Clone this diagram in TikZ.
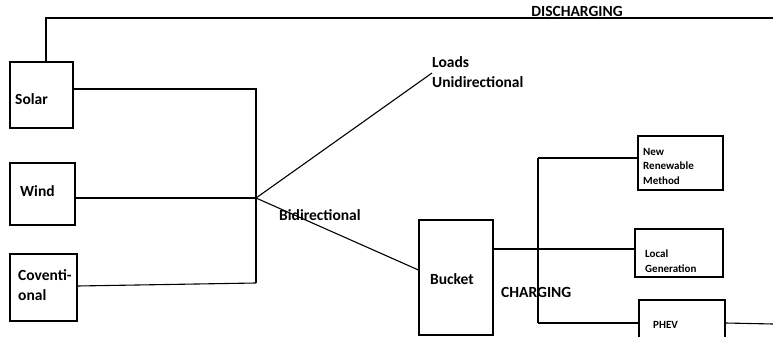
\documentclass[tikz,border=0pt]{standalone}
\usepackage{fontspec}
\setmainfont{Carlito}
\begin{document}
\begin{tikzpicture}[
    x=1pt, y=-1pt,
    unitbox/.style={draw, line width=1.1pt, inner sep=0pt},
    bigtext/.style={font=\fontsize{15.5}{19.5}\selectfont\bfseries, align=left, inner sep=0pt},
    smalltext/.style={font=\fontsize{11}{14.5}\selectfont\bfseries, align=left, inner sep=0pt},
    wire/.style={line width=1.1pt}
]
    \clip (0,0) rectangle (773,337);

    \node[unitbox, minimum width=63, minimum height=66] (solarbox) at (41.5,95) {};
    \node[unitbox, minimum width=65, minimum height=62] (windbox)  at (42.5,194) {};
    \node[unitbox, minimum width=67, minimum height=67] (convbox)  at (43.5,287.5) {};
    \node[bigtext, anchor=west] (solar) at (15,99)  {Solar};
    \node[bigtext, anchor=west] (wind)  at (20,191) {Wind};
    \node[bigtext, anchor=west] (conv)  at (18,285) {Coventi-\\onal};

    \node[unitbox, minimum width=74, minimum height=115] (bucketbox) at (456,277.5) {};
    \node[bigtext, anchor=west] (bucket) at (430,279) {Bucket};

    \node[unitbox, minimum width=85, minimum height=54] (renewbox) at (680.5,163) {};
    \node[unitbox, minimum width=88, minimum height=48] (localbox) at (679,253) {};
    \node[unitbox, minimum width=86, minimum height=50] (phevbox)  at (682,325) {};
    \node[smalltext, anchor=west] (renew) at (643,166) {New\\Renewable\\Method};
    \node[smalltext, anchor=west] (local) at (645,261) {Local\\Generation};
    \node[smalltext, anchor=west] (phev)  at (653,325) {PHEV};

    \node[bigtext, anchor=west] (loads) at (432,72)  {Loads\\Unidirectional};
    \node[bigtext, anchor=west] (bidir) at (279,215) {Bidirectional};
    \node[bigtext, anchor=west] (charging) at (501,292) {CHARGING};
    \node[bigtext, anchor=base] (discharging) at (577,17) {DISCHARGING};

    \coordinate (dtop) at (46,18);
    \coordinate (dend) at (773,18);
    \coordinate (jsol) at (256,89);
    \coordinate (jmid) at (256,198);
    \coordinate (jbot) at (256,283);
    \coordinate (lend) at (432,73);
    \coordinate (jtop) at (538,158);
    \coordinate (jchg) at (538,249);
    \coordinate (jlow) at (538,323);
    \coordinate (pend) at (773,324);

    \draw[wire] (solarbox.north -| dtop) -- (dtop) -- (dend);
    \draw[wire] (solarbox.east |- jsol) -- (jsol) -- (jbot);
    \draw[wire] (windbox.east |- jmid) -- (jmid);
    \draw[wire] (convbox.east |- 0,286) -- (jbot);
    \draw[wire] (jmid) -- (lend);
    \draw[wire] (jmid) -- ([yshift=7.5pt]bucketbox.west);
    \draw[wire] (bucketbox.east |- jchg) -- (jchg);
    \draw[wire] (jtop) -- (jlow);
    \draw[wire] (jtop) -- (renewbox.west |- jtop);
    \draw[wire] (jchg) -- (localbox.west |- jchg);
    \draw[wire] (jlow) -- (phevbox.west |- jlow);
    \draw[wire] (phevbox.east |- jlow) -- (pend);
    \fill (jsol) circle (1.1) (jchg) circle (1.1);
\end{tikzpicture}
\end{document}
